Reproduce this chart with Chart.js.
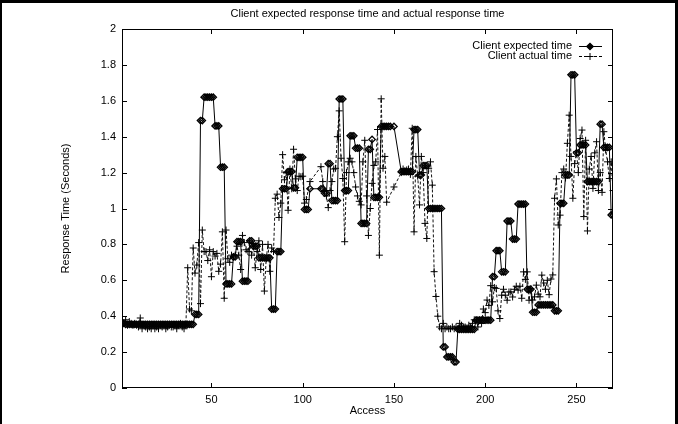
<!DOCTYPE html>
<html>
<head>
<meta charset="utf-8">
<script src="https://cdn.jsdelivr.net/npm/chart.js@4.4.0/dist/chart.umd.min.js"></script>
<style>
  html, body { margin: 0; padding: 0; background: #fff; }
  #wrap { width: 678px; height: 424px; }
</style>
</head>
<body>
<div id="wrap"><canvas id="chart" width="678" height="424"></canvas></div>
<script>
// values per access (1..270), null = no sample
const expectedTime = [
  0.36, 0.36, 0.355, 0.355, 0.355, 0.355, 0.355, 0.355, 0.355, 0.355,
  0.355, 0.355, 0.355, 0.355, 0.355, 0.355, 0.355, 0.355, 0.355, 0.355,
  0.355, 0.355, 0.355, 0.355, 0.355, 0.355, 0.355, 0.355, 0.355, 0.355,
  0.355, 0.355, 0.355, 0.355, 0.355, 0.355, 0.355, 0.355, 0.355, 0.355,
  0.41, 0.41, 0.41, 1.49, 1.49, 1.62, 1.62, 1.62, 1.62, 1.62,
  1.62, 1.46, 1.46, 1.46, 1.23, 1.23, 1.23, 0.58, 0.58, 0.58,
  0.58, 0.73, 0.73, 0.815, 0.815, 0.815, 0.595, 0.595, 0.595, 0.595,
  0.82, 0.82, 0.79, 0.79, 0.79, 0.725, 0.725, 0.725, 0.725, 0.725,
  0.725, 0.725, 0.44, 0.44, 0.44, 0.76, 0.76, 0.76, 1.11, 1.11,
  1.11, 1.205, 1.205, 1.205, 1.115, 1.115, 1.285, 1.285, 1.285, 1.285,
  0.995, 0.995, 0.995, 1.11, null, null, null, null, null, 1.11,
  1.11, 1.085, 1.085, 1.25, 1.25, 1.044, 1.044, 1.044, 1.044, 1.61,
  1.61, 1.61, 1.1, 1.1, 1.1, 1.405, 1.405, 1.405, 1.336, 1.336,
  1.336, 0.917, 0.917, 0.917, 0.917, 1.33, 1.33, 1.385, 1.062, 1.062,
  1.062, 1.062, 1.457, 1.457, 1.457, 1.457, 1.457, 1.457, null, 1.457,
  null, null, null, 1.205, 1.205, 1.205, 1.205, 1.205, 1.205, 1.205,
  1.44, 1.44, 1.44, 1.187, 1.187, 1.239, 1.239, 1.239, 1.0, 1.0,
  1.0, 1.0, 1.0, 1.0, 1.0, 1.0, 0.229, 0.229, 0.173, 0.173,
  0.173, 0.173, 0.145, 0.145, 0.327, 0.327, 0.327, 0.327, 0.327, 0.327,
  0.327, 0.327, 0.327, 0.327, 0.378, 0.378, 0.378, 0.378, 0.378, 0.378,
  0.378, 0.378, 0.378, 0.62, 0.62, 0.765, 0.765, 0.765, 0.647, 0.647,
  0.647, 0.93, 0.93, 0.93, 0.83, 0.83, 0.83, 1.025, 1.025, 1.025,
  1.025, 1.025, 0.55, 0.55, 0.55, 0.422, 0.422, 0.422, 0.463, 0.463,
  0.463, 0.463, 0.463, 0.463, 0.463, 0.463, 0.463, 0.43, 0.43, 0.43,
  1.029, 1.029, 1.029, 1.187, 1.187, 1.187, 1.745, 1.745, 1.745, 1.31,
  1.31, 1.354, 1.354, 1.354, 1.354, 1.15, 1.15, 1.15, 1.15, 1.15,
  1.15, 1.15, 1.47, 1.47, 1.34, 1.34, 1.34, 1.34, 0.964, 0.964
];

const actualTime = [
  0.37, 0.36, 0.38, 0.35, 0.37, 0.36, 0.35, 0.36, 0.35, 0.34,
  0.39, 0.33, 0.35, 0.34, 0.33, 0.34, 0.33, 0.35, 0.33, 0.34,
  0.33, 0.35, 0.34, 0.35, 0.33, 0.34, 0.35, 0.34, 0.34, 0.35,
  0.33, 0.35, 0.36, 0.34, 0.33, 0.35, 0.67, 0.44, 0.43, 0.78,
  0.64, 0.685, 0.81, 0.47, 0.88, 0.76, 0.76, 0.71, 0.77, 0.62,
  0.76, 0.735, 0.75, 0.65, 0.69, 0.87, 0.5, 0.88, 0.72, 0.7,
  0.74, 0.73, 0.74, 0.79, 0.74, 0.66, 0.85, 0.81, 0.77, 0.76,
  0.82, 0.74, 0.79, 0.67, 0.76, 0.82, 0.66, 0.8, 0.54, 0.72,
  0.8, 0.65, 0.78, 0.76, 1.057, 1.08, 0.95, 1.03, 1.3, 1.16,
  1.2, 0.99, 1.22, 1.11, 1.33, 1.165, 1.1, 1.18, 1.177, 1.18,
  1.03, 1.05, null, 1.15, null, null, null, null, null, 1.233,
  1.15, 1.1, 1.07, 1.005, 1.1, 1.15, 1.22, 1.224, 1.4, 1.544,
  1.28, 1.167, 0.815, 1.2, 1.26, 1.28, 1.26, 1.2, 1.12, 1.07,
  1.04, 1.02, 1.26, 1.38, 1.07, 0.85, 1.0, 1.14, 1.24, 1.26,
  1.44, 0.74, 1.611, 1.224, 1.29, 1.035, null, null, null, 1.12,
  null, null, null, 1.2, 1.22, 1.21, 1.215, 1.22, 1.19, 1.447,
  0.87, 1.29, 1.18, 1.02, 1.29, 1.2, 0.917, 0.833, 1.224, 1.26,
  1.13, 0.648, 0.51, 0.4, 0.34, 0.33, 0.36, 0.33, 0.34, 0.33,
  0.33, 0.34, 0.33, 0.34, 0.33, 0.36, 0.35, 0.34, 0.34, 0.33,
  0.35, 0.34, 0.36, 0.38, 0.38, 0.34, 0.38, 0.36, 0.44, 0.42,
  0.49, 0.46, 0.57, 0.48, 0.56, 0.555, 0.43, 0.387, 0.517, 0.55,
  0.517, 0.489, 0.535, 0.535, 0.507, 0.55, 0.567, 0.545, 0.567, 0.5,
  0.647, 0.605, 0.647, 0.489, 0.554, 0.49, 0.508, 0.573, 0.523, 0.508,
  0.629, 0.585, 0.55, 0.6, 0.52, 0.607, 0.63, 1.057, 1.165, 0.908,
  0.963, 1.2, 1.22, 1.17, 1.363, 1.52, 1.29, 1.057, 1.25, 1.316,
  1.2, 1.39, 1.437, 0.955, 1.38, 0.875, 1.22, 1.29, 1.112, 1.31,
  1.372, 1.1, 1.2, 1.09, 1.428, 1.326, 1.26, 1.167, 1.26, 1.1
];

const seriesNames = ['Client expected time', 'Client actual time'];
const xTicks = [50, 100, 150, 200, 250];
const yTicks = [0, 0.2, 0.4, 0.6, 0.8, 1, 1.2, 1.4, 1.6, 1.8, 2];
const yTickLabels = ['0', '0.2', '0.4', '0.6', '0.8', '1', '1.2', '1.4', '1.6', '1.8', '2'];
const chartTitle = 'Client expected response time and actual response time';
const xTitle = 'Access';
const yTitle = 'Response Time (Seconds)';

const toPoints = arr => arr.map((v, i) => ({ x: i + 1, y: v }));

Chart.defaults.font.family = '"Liberation Sans", Arial, Helvetica, sans-serif';
Chart.defaults.font.size = 11;
Chart.defaults.color = '#000';

// gnuplot-ish frame, inward ticks, title, axis labels and key
const gnuplotDecor = {
  id: 'gnuplotDecor',
  afterDraw(chart) {
    const ctx = chart.ctx;
    const a = chart.chartArea;
    const xs = chart.scales.x, ys = chart.scales.y;
    const tl = 5;
    ctx.save();
    ctx.strokeStyle = '#000';
    ctx.lineWidth = 1;
    ctx.strokeRect(a.left + 0.5, a.top + 0.5, a.right - a.left - 1, a.bottom - a.top - 1);
    ctx.beginPath();
    xTicks.forEach(v => {
      const px = Math.round(xs.getPixelForValue(v)) + 0.5;
      ctx.moveTo(px, a.bottom); ctx.lineTo(px, a.bottom - tl);
      ctx.moveTo(px, a.top); ctx.lineTo(px, a.top + tl);
    });
    yTicks.forEach(v => {
      const py = Math.round(ys.getPixelForValue(v)) + 0.5;
      ctx.moveTo(a.left, py); ctx.lineTo(a.left + tl, py);
      ctx.moveTo(a.right, py); ctx.lineTo(a.right - tl, py);
    });
    ctx.stroke();

    ctx.fillStyle = '#000';
    ctx.font = '11px "Liberation Sans", Arial, sans-serif';
    ctx.textAlign = 'center';
    ctx.textBaseline = 'middle';
    ctx.fillText(chartTitle, (a.left + a.right) / 2, 14);
    ctx.fillText(xTitle, (a.left + a.right) / 2, 411);
    ctx.save();
    ctx.translate(66, (a.top + a.bottom) / 2);
    ctx.rotate(-Math.PI / 2);
    ctx.fillText(yTitle, 0, 0);
    ctx.restore();

    // key
    ctx.textAlign = 'right';
    const rows = [46, 56];
    const x0 = 579, x1 = 602, xm = 590;
    chart.data.datasets.forEach((ds, i) => {
      const y = rows[i];
      ctx.fillText(seriesNames[i], 572, y);
      ctx.beginPath();
      ctx.setLineDash(ds.borderDash || []);
      ctx.moveTo(x0, y + 0.5); ctx.lineTo(x1, y + 0.5);
      ctx.stroke();
      ctx.setLineDash([]);
      ctx.lineWidth = ds.pointBorderWidth;
      Chart.helpers.drawPoint(ctx, {
        pointStyle: ds.pointStyle, radius: ds.pointRadius, borderWidth: ds.pointBorderWidth
      }, xm, y + 0.5);
      ctx.lineWidth = 1;
    });

    // outer frame of the figure
    ctx.fillRect(0, 0, 678, 3);
    ctx.fillRect(0, 0, 2, 424);
    ctx.fillRect(675, 0, 3, 424);
    ctx.restore();
  }
};

new Chart(document.getElementById('chart'), {
  type: 'line',
  data: {
    datasets: [
      {
        label: seriesNames[0],
        data: toPoints(expectedTime),
        borderColor: '#000',
        borderWidth: 1,
        pointStyle: 'rectRot',
        pointRadius: 3.2,
        pointBorderWidth: 1.3,
        pointBorderColor: '#000',
        pointBackgroundColor: 'rgba(255,255,255,0)',
        tension: 0,
        spanGaps: true
      },
      {
        label: seriesNames[1],
        data: toPoints(actualTime),
        borderColor: '#111',
        borderWidth: 1,
        borderDash: [3, 2],
        pointStyle: 'cross',
        pointRadius: 3.5,
        pointBorderWidth: 1,
        pointBorderColor: '#000',
        tension: 0,
        spanGaps: true
      }
    ]
  },
  options: {
    responsive: false,
    animation: false,
    layout: { padding: { left: 0, right: 65, top: 29, bottom: 0 } },
    plugins: {
      legend: { display: false },
      title: { display: false },
      tooltip: { enabled: false }
    },
    scales: {
      x: {
        type: 'linear',
        min: 1,
        max: 270,
        grid: { display: false, drawTicks: false },
        border: { display: false },
        afterBuildTicks: s => { s.ticks = xTicks.map(v => ({ value: v })); },
        afterFit: s => { s.height = 36; },
        ticks: { padding: 5, maxRotation: 0, autoSkip: false }
      },
      y: {
        min: 0,
        max: 2,
        grid: { display: false, drawTicks: false },
        border: { display: false },
        afterBuildTicks: s => { s.ticks = yTicks.map(v => ({ value: v })); },
        afterFit: s => { s.width = 122; },
        ticks: {
          padding: 6,
          autoSkip: false,
          callback: (v, i) => yTickLabels[i]
        }
      }
    }
  },
  plugins: [gnuplotDecor]
});
</script>
</body>
</html>
